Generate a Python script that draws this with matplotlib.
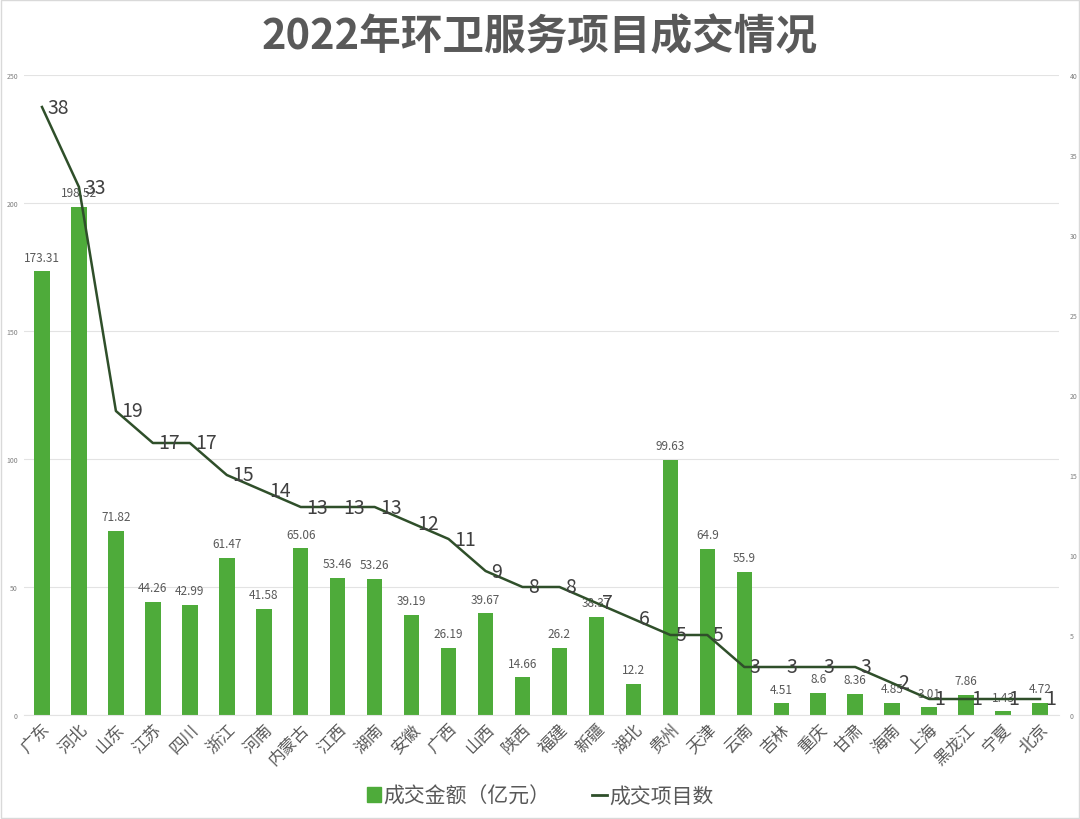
import numpy as np
import matplotlib.pyplot as plt
from matplotlib.patches import Rectangle
from matplotlib.lines import Line2D

plt.rcParams['font.family'] = ['Noto Sans CJK SC', 'DejaVu Sans']

# data
provinces = ['广东', '河北', '山东', '江苏', '四川', '浙江', '河南', '内蒙古', '江西', '湖南',
             '安徽', '广西', '山西', '陕西', '福建', '新疆', '湖北', '贵州', '天津', '云南',
             '吉林', '重庆', '甘肃', '海南', '上海', '黑龙江', '宁夏', '北京']
amounts = [173.31, 198.52, 71.82, 44.26, 42.99, 61.47, 41.58, 65.06, 53.46, 53.26,
           39.19, 26.19, 39.67, 14.66, 26.2, 38.37, 12.2, 99.63, 64.9, 55.9,
           4.51, 8.6, 8.36, 4.85, 3.01, 7.86, 1.43, 4.72]
counts = [38, 33, 19, 17, 17, 15, 14, 13, 13, 13,
          12, 11, 9, 8, 8, 7, 6, 5, 5, 3,
          3, 3, 3, 2, 1, 1, 1, 1]
amount_labels = ['173.31', '198.52', '71.82', '44.26', '42.99', '61.47', '41.58', '65.06',
                 '53.46', '53.26', '39.19', '26.19', '39.67', '14.66', '26.2', '38.37',
                 '12.2', '99.63', '64.9', '55.9', '4.51', '8.6', '8.36', '4.85', '3.01',
                 '7.86', '1.43', '4.72']

bar_color = '#4eab3a'
line_color = '#2f4f2a'
text_color = '#595959'

fig = plt.figure(figsize=(10.8, 8.2), dpi=100)
ax = fig.add_axes([23.5 / 1080, 1 - 716 / 820, 1035 / 1080, 640 / 820])
ax2 = ax.twinx()

x = np.arange(len(provinces))
ax.bar(x, amounts, width=0.42, color=bar_color, zorder=2)
for xi, v, lab in zip(x, amounts, amount_labels):
    ax.text(xi, v + 3, lab, ha='center', va='bottom', fontsize=8.5, color=text_color, zorder=3)

ax.set_xlim(-0.5, len(provinces) - 0.5)
ax.set_ylim(0, 250)
ax.set_yticks(np.arange(0, 251, 50))
ax.grid(axis='y', color='#e3e3e3', linewidth=0.8, zorder=0)
ax.set_axisbelow(True)
ax.tick_params(axis='y', labelsize=5, colors='#7f7f7f', length=0, pad=4)
ax.set_xticks(x)
ax.set_xticklabels(provinces, rotation=45, ha='right', rotation_mode='anchor',
                   fontsize=12, color=text_color)
ax.tick_params(axis='x', length=0, pad=4)
for s in ['top', 'right', 'left']:
    ax.spines[s].set_visible(False)
ax.spines['bottom'].set_color('#e3e3e3')
ax.set_facecolor('none')

ax2.plot(x, counts, color=line_color, linewidth=1.8, zorder=4)
for xi, c in zip(x, counts):
    ax2.annotate(str(c), (xi, c), xytext=(4, 0), textcoords='offset points',
                 ha='left', va='center', fontsize=14, color='#404040', zorder=5)
ax2.set_ylim(0, 40)
ax2.set_yticks(np.arange(0, 41, 5))
ax2.tick_params(axis='y', labelsize=5, colors='#7f7f7f', length=0, pad=8)
for s in ['top', 'right', 'left', 'bottom']:
    ax2.spines[s].set_visible(False)

fig.suptitle('2022年环卫服务项目成交情况', x=0.5, y=0.98, fontsize=30,
             fontweight='bold', color=text_color)

handles = [Rectangle((0, 0), 1, 1, color=bar_color),
           Line2D([0], [0], color=line_color, linewidth=2)]
fig.legend(handles, ['成交金额（亿元）', '成交项目数'], loc='center',
           bbox_to_anchor=(0.5, 1 - 797 / 820), ncol=2, frameon=False,
           fontsize=15, labelcolor=text_color, handlelength=0.7, handletextpad=0.1,
           columnspacing=2.0)

fig.patches.append(Rectangle((0.001, 0.001), 0.998, 0.998, transform=fig.transFigure,
                             fill=False, edgecolor='#d9d9d9', linewidth=1))

fig.savefig('out.png', dpi=100)
